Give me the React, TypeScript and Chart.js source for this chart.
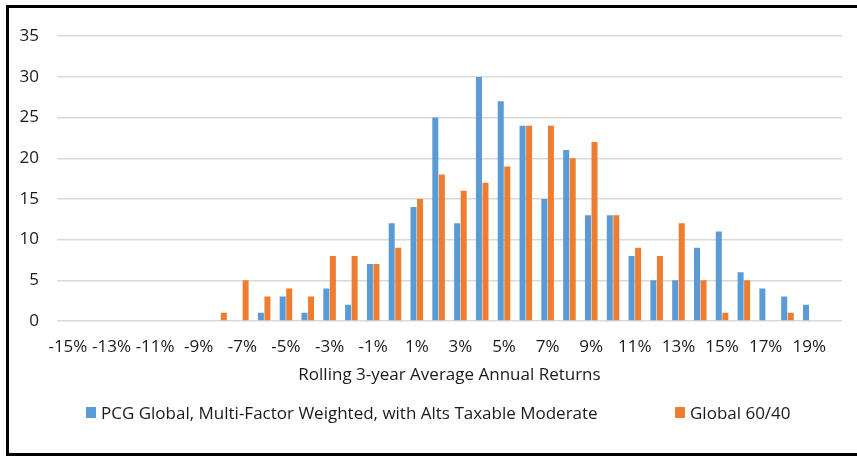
import { useEffect, useRef } from 'react';
import { Chart, registerables } from 'chart.js';

Chart.register(...registerables);

// return buckets, -15% .. 20% (the 20% bucket is empty but still takes a slot)
const buckets: string[] = [
  '-15%', '-14%', '-13%', '-12%', '-11%', '-10%', '-9%', '-8%', '-7%', '-6%',
  '-5%', '-4%', '-3%', '-2%', '-1%', '0%', '1%', '2%', '3%', '4%',
  '5%', '6%', '7%', '8%', '9%', '10%', '11%', '12%', '13%', '14%',
  '15%', '16%', '17%', '18%', '19%', '20%',
];

const pcgCounts: number[] = [
  0, 0, 0, 0, 0, 0, 0, 0, 0, 1,
  3, 1, 4, 2, 7, 12, 14, 25, 12, 30,
  27, 24, 15, 21, 13, 13, 8, 5, 5, 9,
  11, 6, 4, 3, 2, 0,
];

const global6040Counts: number[] = [
  0, 0, 0, 0, 0, 0, 0, 1, 5, 3,
  4, 3, 8, 8, 7, 9, 15, 18, 16, 17,
  19, 24, 24, 20, 22, 13, 9, 8, 12, 5,
  1, 5, 0, 1, 0, 0,
];

const seriesNames = [
  'PCG Global, Multi-Factor Weighted, with Alts Taxable Moderate',
  'Global 60/40',
];
const seriesColors = ['#5B9BD5', '#ED7D31'];

const yMax = 35;
const yStep = 5;
const xTitle = 'Rolling 3-year Average Annual Returns';

const FONT = '"Open Sans", Lato, sans-serif';
const FONT_SIZE = 17;
const TEXT = '#1a1a1a';

export default function App() {
  const chartRef = useRef<HTMLCanvasElement>(null);

  useEffect(() => {
    if (!chartRef.current) return;

    const chart = new Chart(chartRef.current, {
      type: 'bar',
      data: {
        labels: buckets,
        datasets: [
          {
            label: seriesNames[0],
            data: pcgCounts,
            backgroundColor: seriesColors[0],
            categoryPercentage: 0.6,
            barPercentage: 0.92,
          },
          {
            label: seriesNames[1],
            data: global6040Counts,
            backgroundColor: seriesColors[1],
            categoryPercentage: 0.6,
            barPercentage: 0.92,
          },
        ],
      },
      options: {
        responsive: true,
        maintainAspectRatio: false,
        animation: false,
        layout: {
          padding: { top: 19, right: 15, bottom: 60, left: 0 },
        },
        plugins: {
          legend: { display: false },
          tooltip: { enabled: false },
        },
        scales: {
          x: {
            afterFit: (scale) => {
              scale.height = 72;
            },
            grid: { display: false, drawTicks: false },
            border: { display: false },
            ticks: {
              autoSkip: false,
              maxRotation: 0,
              minRotation: 0,
              padding: 16,
              color: TEXT,
              font: { family: FONT, size: FONT_SIZE },
              callback: (_v, i) => (i % 2 === 0 ? buckets[i] : ''),
            },
            title: {
              display: true,
              text: xTitle,
              color: TEXT,
              font: { family: FONT, size: FONT_SIZE },
              padding: { top: 4, bottom: 8 },
            },
          },
          y: {
            min: 0,
            max: yMax,
            afterFit: (scale) => {
              scale.width = 48;
            },
            grid: { color: '#D9D9D9', lineWidth: 1.5, drawTicks: false },
            border: { display: false },
            ticks: {
              stepSize: yStep,
              padding: 18,
              color: TEXT,
              font: { family: FONT, size: FONT_SIZE },
            },
          },
        },
      },
    });

    return () => {
      chart.destroy();
    };
  }, []);

  const legendText = {
    position: 'absolute' as const,
    top: 401,
    height: 24,
    lineHeight: '24px',
    fontSize: FONT_SIZE,
    fontFamily: FONT,
    color: TEXT,
    whiteSpace: 'nowrap' as const,
  };

  return (
    <div style={{ position: 'fixed', inset: 0, background: '#fff', overflow: 'hidden' }}>
      <div
        style={{
          position: 'absolute',
          left: 6,
          top: 5,
          width: 900,
          height: 445,
          border: '3px solid #000',
        }}
      />
      <div style={{ position: 'absolute', left: 9, top: 8, width: 848, height: 445 }}>
        <canvas ref={chartRef} />
      </div>
      <div style={{ position: 'absolute', left: 86, top: 407, width: 10, height: 11, background: seriesColors[0] }} />
      <div style={{ ...legendText, left: 101 }}>{seriesNames[0]}</div>
      <div style={{ position: 'absolute', left: 675, top: 407, width: 10, height: 11, background: seriesColors[1] }} />
      <div style={{ ...legendText, left: 690 }}>{seriesNames[1]}</div>
    </div>
  );
}
